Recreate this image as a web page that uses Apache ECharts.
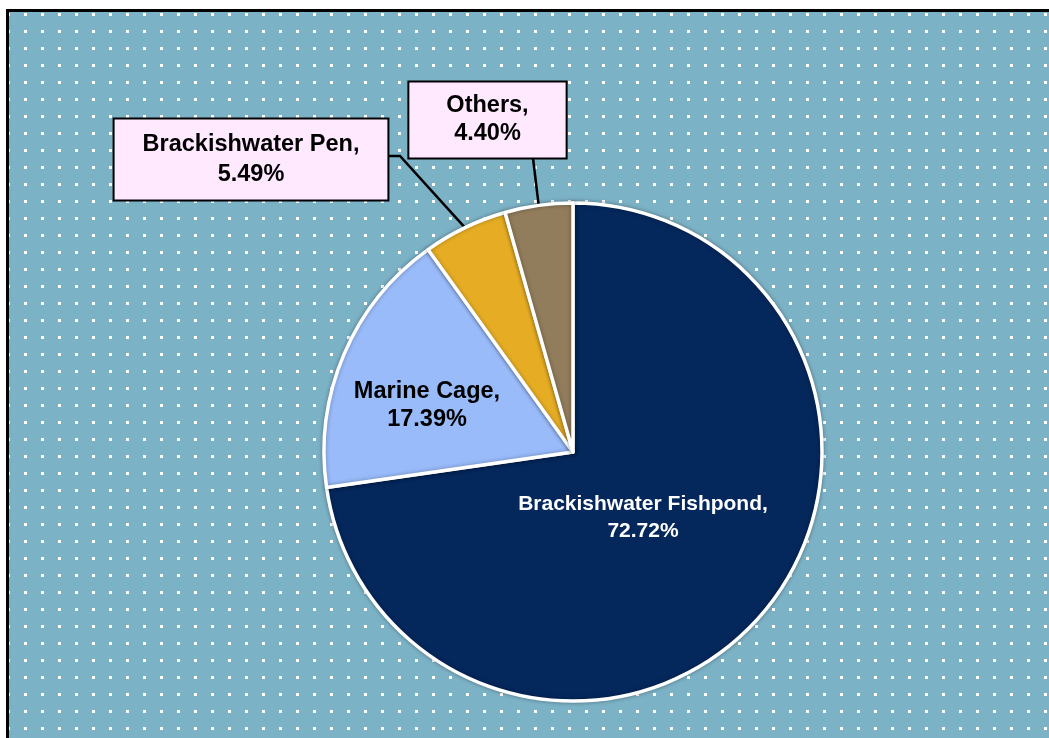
<!DOCTYPE html>
<html>
<head>
<meta charset="utf-8">
<script src="https://cdn.jsdelivr.net/npm/echarts@6/dist/echarts.min.js"></script>
<style>
  html, body { margin: 0; padding: 0; background: #fff; }
  #main { width: 1049px; height: 738px; }
</style>
</head>
<body>
<div id="main"></div>
<script>
// data
var categories = ['Brackishwater Fishpond', 'Marine Cage', 'Brackishwater Pen', 'Others'];
var shares = [72.72, 17.39, 5.49, 4.40];
var sliceColors = ['#04275c', '#99bbfa', '#e6ad24', '#917c5b'];

// pie geometry (px)
var cx = 573, cy = 452, R = 249;

// label centres and leader line bends
var labelSpots = [[643, 518], [427, 406], [251, 159.5], [487.5, 120]];
var leaderBends = [null, null, [[400, 156], [389, 156]], [[533, 158], [533, 158]]];

var font = "'Liberation Sans', Arial, sans-serif";

// dotted backdrop
var dots = document.createElement('canvas');
dots.width = 17; dots.height = 17;
var g = dots.getContext('2d');
g.fillStyle = '#7cb2c6';
g.fillRect(0, 0, 17, 17);
g.fillStyle = '#ffffff';
g.fillRect(7, 13, 3, 3);

var labelStyles = [
  { position: 'inside', color: '#fff', fontSize: 21, lineHeight: 27 },
  { position: 'inside', color: '#000', fontSize: 23.5, lineHeight: 28 },
  { position: 'outside', color: '#000', fontSize: 23.5, lineHeight: 30,
    backgroundColor: '#ffe9ff', borderColor: '#000', borderWidth: 2, padding: [10, 28] },
  { position: 'outside', color: '#000', fontSize: 23.5, lineHeight: 28,
    backgroundColor: '#ffe9ff', borderColor: '#000', borderWidth: 2, padding: [9.5, 37] }
];

var total = shares.reduce(function (a, b) { return a + b; }, 0);
function midAngle(i) {
  var before = 0;
  for (var k = 0; k < i; k++) before += shares[k];
  return (before + shares[i] / 2) / total * Math.PI * 2;
}

var chart = echarts.init(document.getElementById('main'));
chart.setOption({
  backgroundColor: '#fff',
  animation: false,
  graphic: [{
    type: 'rect',
    silent: true,
    z: -10,
    shape: { x: 7.5, y: 10.5, width: 1060, height: 760 },
    style: { fill: { image: dots, repeat: 'repeat' }, stroke: '#000', lineWidth: 3 }
  }],
  series: [{
    type: 'pie',
    center: [cx, cy],
    radius: R,
    startAngle: 90,
    clockwise: true,
    avoidLabelOverlap: false,
    itemStyle: {
      borderColor: '#fff',
      borderWidth: 3.5,
      shadowBlur: 4,
      shadowColor: 'rgba(0,0,0,0.3)'
    },
    label: {
      fontFamily: font,
      fontWeight: 'bold',
      align: 'center',
      formatter: function (p) { return p.name + ',\n' + p.value.toFixed(2) + '%'; }
    },
    labelLine: {
      show: true,
      lineStyle: { color: '#000', width: 2.5 }
    },
    labelLayout: function (p) {
      var i = p.dataIndex;
      var out = { x: labelSpots[i][0], y: labelSpots[i][1], align: 'center', verticalAlign: 'middle' };
      if (leaderBends[i]) {
        var a = midAngle(i);
        var edge = [cx + R * Math.sin(a), cy - R * Math.cos(a)];
        out.labelLinePoints = [edge, leaderBends[i][0], leaderBends[i][1]];
      }
      return out;
    },
    data: categories.map(function (name, i) {
      return {
        name: name,
        value: shares[i],
        itemStyle: { color: sliceColors[i] },
        label: labelStyles[i],
        labelLine: { show: !!leaderBends[i] }
      };
    })
  }]
});
</script>
</body>
</html>
